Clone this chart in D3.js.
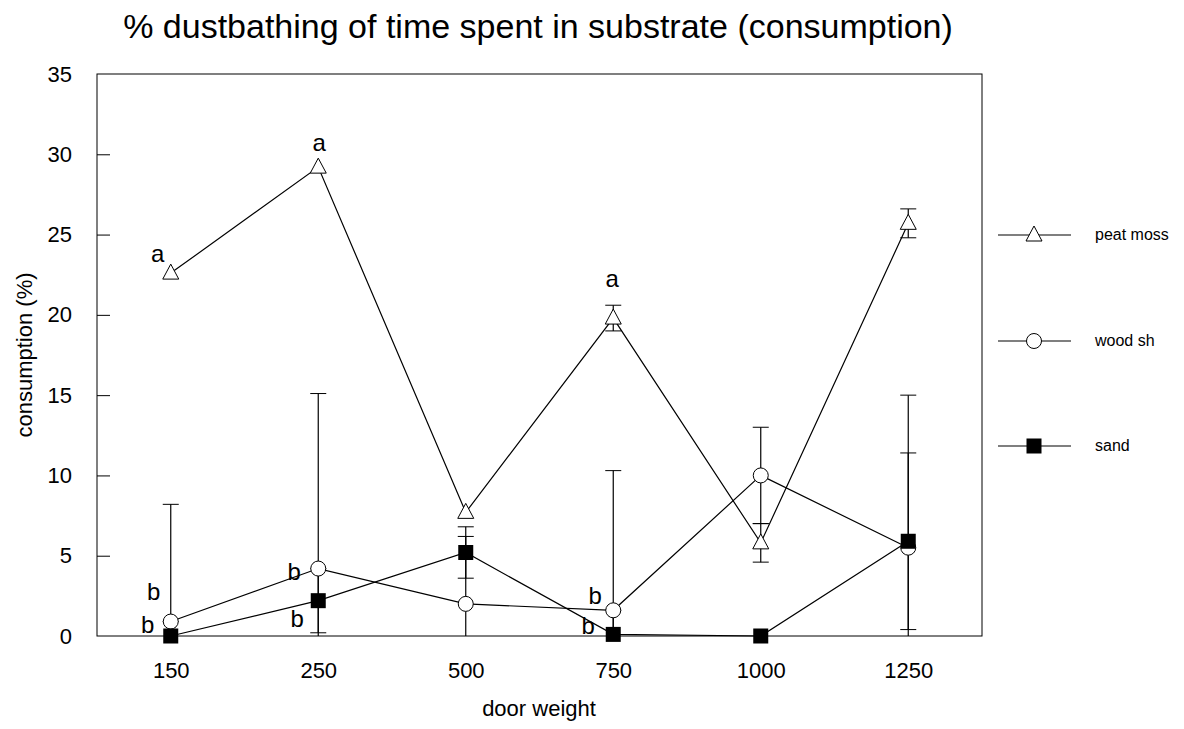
<!DOCTYPE html>
<html><head><meta charset="utf-8">
<script src="https://cdn.jsdelivr.net/npm/d3@7"></script>
<style>body{margin:0;background:#fff}svg{display:block}text{font-family:"Liberation Sans",Arial,sans-serif;fill:#000}</style>
</head><body><svg id="c" width="1184" height="729"></svg>
<script>
const categories = ["150","250","500","750","1000","1250"];
const peatMoss = [22.6, 29.2, 7.7, 19.8, 5.8, 25.7];
const peatMossErr = [0, 0, 0, 0.8, 1.2, 0.9];
const woodSh = [0.9, 4.2, 2.0, 1.6, 10.0, 5.5];
const woodShErr = [7.3, 10.9, 4.2, 8.7, 3.0, 9.5];
const sand = [0.0, 2.2, 5.2, 0.1, 0.0, 5.9];
const sandErr = [0.9, 2.0, 1.6, 1.5, 0, 5.5];
const yTicks = [0,5,10,15,20,25,30,35];
const seriesNames = ["peat moss","wood sh","sand"];
const letters = [
  {cat:"150", v:22.6, t:"a", dx:-13, dy:-11},
  {cat:"250", v:29.2, t:"a", dx:1, dy:-16},
  {cat:"750", v:19.8, t:"a", dx:-1, dy:-31},
  {cat:"150", v:0.9, t:"b", dx:-17, dy:-22},
  {cat:"150", v:0.0, t:"b", dx:-23, dy:-3},
  {cat:"250", v:4.2, t:"b", dx:-24, dy:11},
  {cat:"250", v:2.2, t:"b", dx:-21, dy:26},
  {cat:"750", v:1.6, t:"b", dx:-18, dy:-6},
  {cat:"750", v:0.1, t:"b", dx:-25, dy:0}
];

const svg = d3.select("#c");
const L=97, R=982, T=74, B=636;
const x = d3.scalePoint().domain(categories).range([L,R]).padding(0.5);
const y = d3.scaleLinear().domain([0,35]).range([B,T]);

// title
svg.append("text").attr("x",538).attr("y",38).attr("text-anchor","middle")
  .style("font-size","34px").text("% dustbathing of time spent in substrate (consumption)");

// frame
svg.append("rect").attr("x",L).attr("y",T).attr("width",R-L).attr("height",B-T)
  .attr("fill","none").attr("stroke","#000").attr("stroke-width",1);

// y axis
const ya = svg.append("g").attr("transform",`translate(${L},0)`)
  .call(d3.axisLeft(y).tickValues(yTicks).tickSizeInner(-13).tickSizeOuter(0).tickPadding(25));
ya.select(".domain").remove();
ya.selectAll(".tick line").filter(d=>d===0||d===35).remove();
ya.selectAll("text").style("font-size","22px").style("font-family","Liberation Sans, Arial, sans-serif");

// x axis labels
const xa = svg.append("g").attr("transform",`translate(0,${B})`)
  .call(d3.axisBottom(x).tickSize(0).tickPadding(26));
xa.select(".domain").remove();
xa.selectAll("text").style("font-size","22px").style("font-family","Liberation Sans, Arial, sans-serif");

svg.append("text").attr("x",539).attr("y",716).attr("text-anchor","middle").style("font-size","22px").text("door weight");
svg.append("text").attr("transform","translate(32,355) rotate(-90)").attr("text-anchor","middle").style("font-size","22px").text("consumption (%)");

const series = [
  {name:seriesNames[0], v:peatMoss, e:peatMossErr, shape:"tri"},
  {name:seriesNames[1], v:woodSh, e:woodShErr, shape:"circ"},
  {name:seriesNames[2], v:sand, e:sandErr, shape:"sq"}
];

function marker(g, cx, cy, shape){
  if(shape==="tri"){
    g.append("path").attr("d",`M${cx},${cy-9}L${cx+8},${cy+6}L${cx-8},${cy+6}Z`)
      .attr("fill","#fff").attr("stroke","#000").attr("stroke-width",1);
  } else if(shape==="circ"){
    g.append("circle").attr("cx",cx).attr("cy",cy).attr("r",7.5)
      .attr("fill","#fff").attr("stroke","#000").attr("stroke-width",1);
  } else {
    g.append("rect").attr("x",cx-7.5).attr("y",cy-7.5).attr("width",15).attr("height",15).attr("fill","#000");
  }
}

const line = d3.line().x((d,i)=>x(categories[i])).y(d=>y(d));
// error bars
series.forEach(s=>{
  const g = svg.append("g");
  s.v.forEach((v,i)=>{
    if(!s.e[i]) return;
    const cx = x(categories[i]);
    const hi = y(v+s.e[i]), lo = y(Math.max(0,v-s.e[i]));
    g.append("line").attr("x1",cx).attr("x2",cx).attr("y1",hi).attr("y2",lo).attr("stroke","#000").attr("stroke-width",1.2);
    g.append("line").attr("x1",cx-8).attr("x2",cx+8).attr("y1",hi).attr("y2",hi).attr("stroke","#000");
    if(v-s.e[i] > 0) g.append("line").attr("x1",cx-8).attr("x2",cx+8).attr("y1",lo).attr("y2",lo).attr("stroke","#000");
  });
});
// lines
series.forEach(s=>{
  svg.append("path").datum(s.v).attr("d",line).attr("fill","none").attr("stroke","#000").attr("stroke-width",1.2);
});
// markers
series.forEach(s=>{
  const g = svg.append("g");
  s.v.forEach((v,i)=>marker(g, x(categories[i]), y(v), s.shape));
});

// letters
letters.forEach(l=>{
  svg.append("text").attr("x",x(l.cat)+l.dx).attr("y",y(l.v)+l.dy).attr("text-anchor","middle")
    .style("font-size","24px").text(l.t);
});

// legend
const legY = [235, 341, 446];
series.forEach((s,i)=>{
  const g = svg.append("g");
  g.append("line").attr("x1",998).attr("x2",1071).attr("y1",legY[i]).attr("y2",legY[i]).attr("stroke","#000").attr("stroke-width",1.2);
  marker(g, 1034, legY[i], s.shape);
  g.append("text").attr("x",1095).attr("y",legY[i]+5).style("font-size","16px").text(s.name);
});
</script></body></html>
